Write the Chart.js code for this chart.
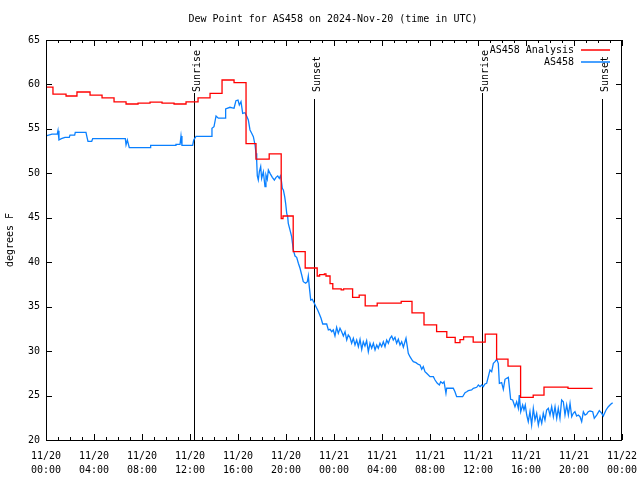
<!DOCTYPE html>
<html><head><meta charset="utf-8">
<script src="https://cdn.jsdelivr.net/npm/chart.js@4.4.0/dist/chart.umd.min.js"></script>
<style>html,body{margin:0;padding:0;background:#fff;}canvas{display:block;}</style>
</head><body>
<canvas id="c" width="640" height="480"></canvas>
<script>
const chartTitle = 'Dew Point for AS458 on 2024-Nov-20 (time in UTC)';
const yAxisTitle = 'degrees F';
const seriesNames = ['AS458 Analysis', 'AS458'];
const xTickLabels = [
  ['11/20','00:00'],['11/20','04:00'],['11/20','08:00'],['11/20','12:00'],['11/20','16:00'],['11/20','20:00'],
  ['11/21','00:00'],['11/21','04:00'],['11/21','08:00'],['11/21','12:00'],['11/21','16:00'],['11/21','20:00'],
  ['11/22','00:00']
];
const yMin = 20, yMax = 65, yStep = 5;
const xMinHours = 0, xMaxHours = 48, xStepHours = 4;

const sunEventHours = [12.33, 22.33, 36.36, 46.31];
const sunEventLabels = ['Sunrise', 'Sunset', 'Sunrise', 'Sunset'];

// Hours since 11/20 00:00 UTC at which each analysis value begins
const analysisHours = [0,0.58,1.67,2.58,3.67,4.67,5.67,6.67,7.67,8.67,9.67,10.67,11.67,12.67,13.67,14.67,15.67,16.67,17.5,18.6,19.6,19.75,20.6,21.6,22.6,22.8,23.2,23.33,23.67,23.9,24.6,24.8,25.55,26.1,26.6,27.6,29.6,30.5,31.5,32.55,33.4,34.1,34.5,34.8,35.6,36.6,37.55,38.5,39.55,40.6,41.5,43.5,45.55];
const analysisValues = [59.7,58.9,58.7,59.15,58.8,58.5,58.05,57.8,57.9,58.0,57.9,57.8,58.05,58.5,59.0,60.5,60.2,53.35,51.6,52.2,44.9,45.2,41.2,39.35,38.45,38.6,38.7,38.45,37.6,37.0,36.9,37.0,36.05,36.3,35.1,35.4,35.6,34.3,32.95,32.2,31.55,30.95,31.3,31.6,31.0,31.9,29.1,28.3,24.8,25.05,25.95,25.8,25.8];

const obsHours = [0,0.5,0.94,1.0,1.08,1.28,1.58,1.94,2.0,2.39,2.44,3.33,3.42,3.5,3.81,3.89,6.61,6.67,6.78,6.94,8.67,8.72,10.75,10.83,11.17,11.25,11.33,12.22,12.31,12.5,13.75,13.83,14.0,14.17,14.36,14.92,14.97,15.33,15.67,15.83,16.0,16.11,16.25,16.39,16.58,16.72,16.86,17.0,17.14,17.28,17.42,17.5,17.56,17.61,17.69,17.78,17.89,17.97,18.11,18.25,18.33,18.44,18.53,18.67,18.86,19.03,19.17,19.31,19.44,19.53,19.61,19.69,19.78,19.89,19.97,20.06,20.14,20.19,20.33,20.47,20.61,20.75,20.89,21.03,21.17,21.31,21.44,21.64,21.78,21.86,21.94,22.06,22.19,22.36,22.5,22.64,22.78,22.92,23.06,23.39,23.53,23.67,23.81,23.94,24.08,24.22,24.36,24.5,24.64,24.78,24.92,25.06,25.19,25.33,25.47,25.61,25.75,25.89,26.03,26.17,26.31,26.44,26.58,26.72,26.86,27.0,27.14,27.28,27.42,27.56,27.69,27.83,27.97,28.11,28.25,28.39,28.53,28.67,28.81,28.94,29.08,29.22,29.36,29.5,29.64,29.78,30.0,30.11,30.19,30.33,30.47,30.61,30.83,31.03,31.17,31.31,31.44,31.58,31.72,32.0,32.28,32.42,32.61,32.78,32.89,33.06,33.17,33.33,33.39,33.67,33.94,34.08,34.22,34.72,34.92,35.06,35.19,35.47,35.61,35.89,36.03,36.17,36.31,36.44,36.58,36.72,36.86,37.0,37.14,37.28,37.42,37.56,37.69,37.78,37.97,38.11,38.25,38.39,38.53,38.61,38.72,38.89,39.08,39.22,39.36,39.44,39.56,39.72,39.83,39.94,40.06,40.19,40.33,40.47,40.61,40.75,40.89,41.03,41.17,41.31,41.44,41.58,41.72,41.86,42.0,42.14,42.28,42.42,42.56,42.69,42.83,42.97,43.11,43.25,43.39,43.53,43.67,43.81,43.94,44.08,44.22,44.36,44.5,44.64,44.78,44.92,45.06,45.19,45.33,45.56,45.69,45.89,46.11,46.31,46.44,46.67,46.86,47.06,47.22];
const obsValues = [54.2,54.4,54.4,54.8,53.75,53.9,54.05,54.05,54.3,54.3,54.6,54.6,54.05,53.6,53.6,53.9,53.9,53.2,53.75,52.9,52.9,53.15,53.15,53.25,53.25,54.2,53.15,53.15,53.75,54.15,54.15,55.07,55.25,56.45,56.2,56.2,57.24,57.43,57.32,58.17,58.25,57.69,58.06,56.75,56.82,56.45,56.0,54.88,54.5,54.12,53.19,52.25,51.31,49.7,49.25,50.18,50.75,49.44,50.18,48.5,49.81,49.33,50.38,50.0,49.55,49.25,49.55,49.7,49.44,49.7,49.25,48.32,48.13,47.37,46.63,45.5,45.12,44.38,43.63,42.87,41.38,40.7,40.55,39.88,39.32,38.56,37.81,37.63,37.81,38.45,37.25,35.75,35.83,35.38,35.0,34.63,34.17,33.69,33.05,33.05,32.38,32.45,32.18,32.38,31.7,32.68,32.0,32.57,32.18,31.7,32.18,31.25,31.81,31.55,30.88,31.44,30.69,31.25,30.5,31.33,30.2,31.06,30.57,31.17,29.93,30.88,30.32,30.88,30.13,30.69,30.32,30.88,30.5,31.06,30.5,31.25,30.88,31.44,31.7,31.25,31.55,30.88,31.33,30.69,31.06,30.43,31.44,30.5,29.75,29.37,29.08,28.81,28.7,28.5,28.44,27.95,28.25,27.68,27.5,27.12,27.12,26.75,26.38,26.19,26.56,26.38,26.56,25.25,25.82,25.82,25.82,25.43,24.87,24.87,25.32,25.43,25.55,25.63,25.82,25.93,26.19,26.0,26.19,26.0,26.3,26.38,27.12,27.88,27.68,28.63,28.81,29.08,28.63,26.38,26.45,25.7,26.83,26.94,27.05,26.0,24.58,24.5,23.75,24.31,23.57,25.06,23.18,23.94,23.38,23.94,22.81,22.06,23.18,21.69,23.57,22.25,23.0,21.69,22.62,21.88,23.0,22.25,23.38,23.57,22.81,23.75,22.62,23.75,22.44,23.57,22.44,24.5,24.31,22.81,23.94,22.81,24.13,22.62,23.0,23.18,22.7,22.81,22.62,22.06,23.18,22.81,22.93,23.18,23.26,23.18,22.44,22.81,23.3,23.0,22.7,23.38,23.75,24.02,24.2];

const FONT = 'DejaVu Sans Mono';
const seriesColors = ['#ff0000', '#0a80ff'];

const gnuplotFrame = {
  id: 'gnuplotFrame',
  beforeDatasetsDraw(chart) {
    const {ctx, chartArea: a, scales: {x}} = chart;
    ctx.save();
    ctx.font = '10px "' + FONT + '"';
    ctx.fillStyle = '#000';
    ctx.strokeStyle = '#000';
    ctx.lineWidth = 1;
    sunEventHours.forEach((h, i) => {
      const px = Math.round(x.getPixelForValue(h)) + 0.5;
      const label = sunEventLabels[i];
      const textBottom = a.top + 52;
      ctx.save();
      ctx.translate(px + 5, textBottom);
      ctx.rotate(-Math.PI / 2);
      ctx.textAlign = 'left';
      ctx.textBaseline = 'alphabetic';
      ctx.fillText(label, 0, 0);
      ctx.restore();
      const gap = label === 'Sunrise' ? 1 : 7;
      ctx.beginPath();
      ctx.moveTo(px, textBottom + gap);
      ctx.lineTo(px, a.bottom);
      ctx.stroke();
    });
    ctx.restore();
  },
  afterDatasetsDraw(chart) {
    const {ctx, chartArea: a, scales: {x, y}} = chart;
    ctx.save();
    ctx.strokeStyle = '#000';
    ctx.fillStyle = '#000';
    ctx.lineWidth = 1;
    ctx.strokeRect(a.left + 0.5, a.top + 0.5, a.right - a.left - 1, a.bottom - a.top);
    ctx.beginPath();
    for (let h = xMinHours; h <= xMaxHours; h++) {
      const px = Math.round(x.getPixelForValue(h)) + 0.5;
      const len = (h % xStepHours === 0) ? 6 : 3;
      ctx.moveTo(px, a.bottom); ctx.lineTo(px, a.bottom - len);
      ctx.moveTo(px, a.top); ctx.lineTo(px, a.top + len);
    }
    for (let v = yMin; v <= yMax; v += yStep) {
      const py = Math.round(y.getPixelForValue(v)) + 0.5;
      ctx.moveTo(a.left, py); ctx.lineTo(a.left + 6, py);
      ctx.moveTo(a.right, py); ctx.lineTo(a.right - 6, py);
    }
    ctx.stroke();
    ctx.font = '10px "' + FONT + '"';
    ctx.textAlign = 'center';
    ctx.textBaseline = 'middle';
    ctx.fillText(chartTitle, (a.left + a.right) / 2 - 1, 19);
    ctx.save();
    ctx.translate(10, (a.top + a.bottom) / 2);
    ctx.rotate(-Math.PI / 2);
    ctx.fillText(yAxisTitle, 0, 0);
    ctx.restore();
    // key
    ctx.textAlign = 'right';
    seriesNames.forEach((n, i) => {
      const ry = a.top + 10 + i * 12;
      ctx.fillStyle = '#000';
      ctx.fillText(n, a.right - 48, ry + 0.5);
      ctx.strokeStyle = seriesColors[i];
      ctx.lineWidth = 1.5;
      ctx.beginPath();
      ctx.moveTo(a.right - 41, ry);
      ctx.lineTo(a.right - 12, ry);
      ctx.stroke();
    });
    ctx.restore();
  }
};

new Chart(document.getElementById('c'), {
  type: 'line',
  data: {
    datasets: [
      {
        label: seriesNames[0],
        data: analysisHours.map((h, i) => ({x: h, y: analysisValues[i]})),
        borderColor: seriesColors[0],
        borderWidth: 1.3,
        stepped: 'before',
        pointRadius: 0,
        fill: false
      },
      {
        label: seriesNames[1],
        data: obsHours.map((h, i) => ({x: h, y: obsValues[i]})),
        borderColor: seriesColors[1],
        borderWidth: 1.3,
        tension: 0,
        pointRadius: 0,
        fill: false
      }
    ]
  },
  options: {
    responsive: false,
    animation: false,
    devicePixelRatio: 1,
    layout: {padding: {top: 40, right: 18, left: 0, bottom: 0}},
    plugins: {legend: {display: false}, title: {display: false}, tooltip: {enabled: false}},
    scales: {
      x: {
        type: 'linear',
        min: xMinHours, max: xMaxHours,
        afterFit: s => { s.height = 40; s.paddingLeft = 0; s.paddingRight = 0; },
        grid: {display: false, drawTicks: false},
        border: {display: false},
        ticks: {
          stepSize: xStepHours, autoSkip: false, maxRotation: 0, padding: 9,
          color: '#000', font: {family: FONT, size: 10, lineHeight: 1.4},
          callback: (v, i) => xTickLabels[i]
        }
      },
      y: {
        min: yMin, max: yMax,
        afterFit: s => { s.width = 46; s.paddingTop = 0; s.paddingBottom = 0; },
        grid: {display: false, drawTicks: false},
        border: {display: false},
        ticks: {stepSize: yStep, padding: 6, color: '#000', font: {family: FONT, size: 10}}
      }
    }
  },
  plugins: [gnuplotFrame]
});
</script>
</body></html>
